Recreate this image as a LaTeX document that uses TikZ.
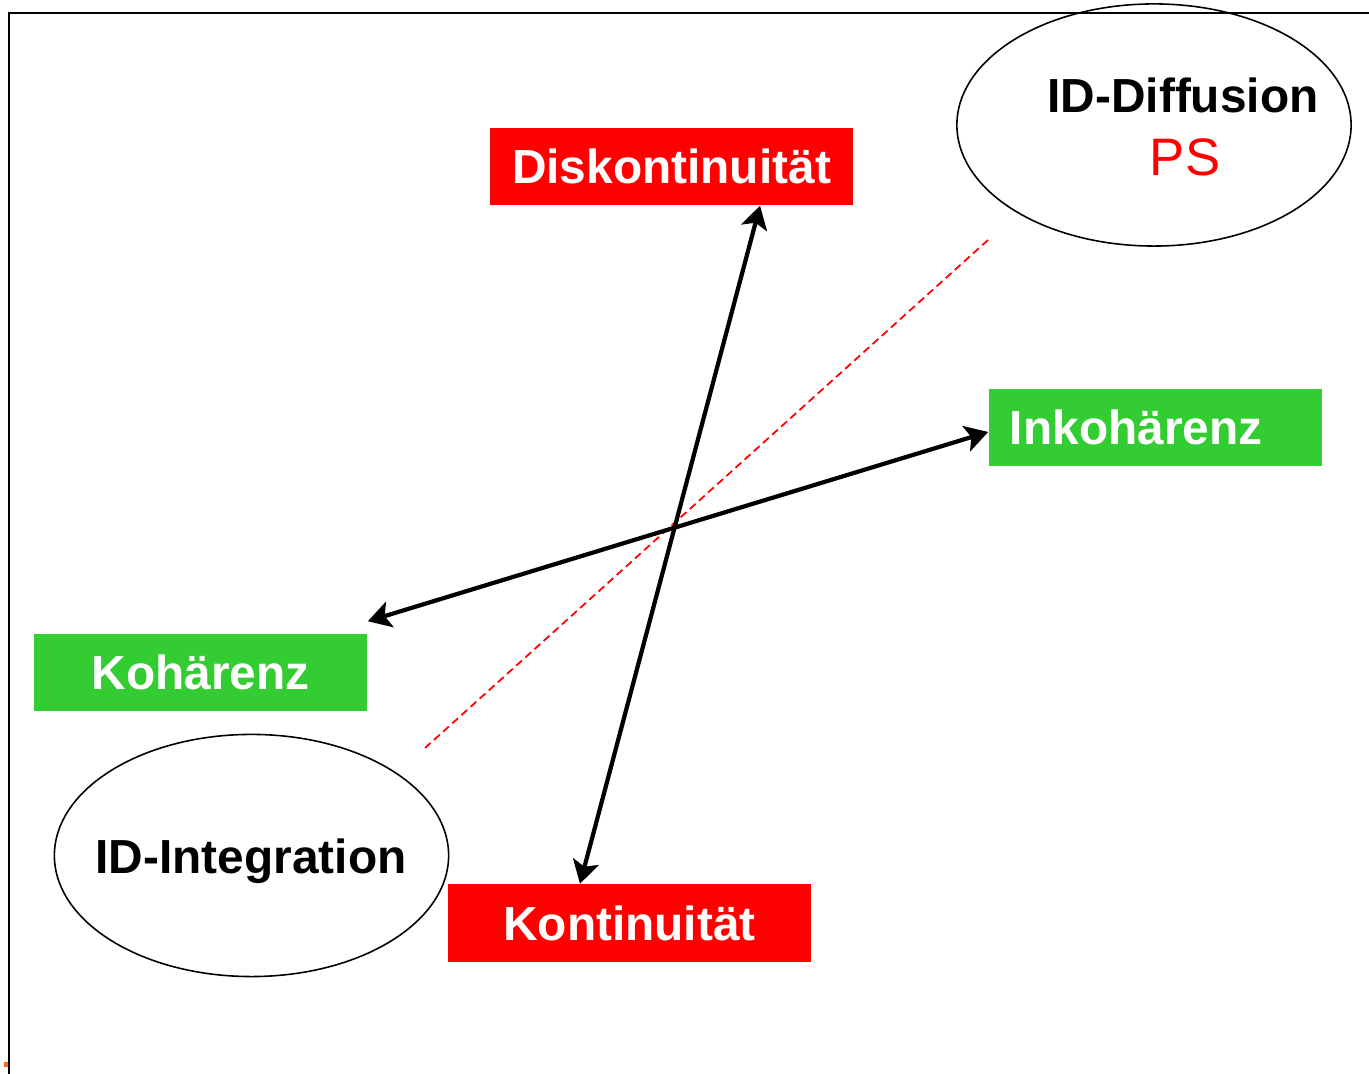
\documentclass[tikz,border=0pt]{standalone}
\usepackage{fontspec}
\setmainfont{Liberation Sans}
\usetikzlibrary{shapes.geometric,arrows.meta}
\definecolor{boxred}{RGB}{255,0,0}
\definecolor{boxgreen}{RGB}{51,204,51}
\definecolor{markorange}{RGB}{240,112,32}

\begin{document}
\begin{tikzpicture}[x=0.01cm,y=-0.01cm,
	boxfont/.style={font=\fontsize{13.6}{16}\selectfont\bfseries},
	redbox/.style={boxfont, fill=boxred, text=white, minimum width=3.63cm, minimum height=0.77cm, inner sep=0},
	greenbox/.style={boxfont, fill=boxgreen, text=white, minimum width=3.33cm, minimum height=0.77cm, inner sep=0},
	idell/.style={ellipse, draw, line width=0.45pt, minimum width=3.94cm, minimum height=2.42cm, inner sep=0},
	dblarrow/.style={<->, >={Stealth[length=6.5pt,width=7.5pt,inset=1.5pt]}, line width=1.2pt}]
	\useasboundingbox (0,0) rectangle (1369,1074);

	% frame
	\coordinate (f1) at (9,1074);
	\coordinate (f2) at (9,13);
	\coordinate (f3) at (1369,13);
	\draw[line width=0.6pt] (f1) -- (f2) -- (f3);
	\fill[markorange] (4,1062) rectangle (8,1067);

	\node[redbox](disk) at (671.5,166.5) {Diskontinuität};
	\node[redbox](kont) at (629.5,923) {Kontinuität};
	\node[greenbox, text width=2.91cm, align=left, inner xsep=0.21cm](inko) at (1155.5,427.5) {Inkohärenz};
	\node[greenbox](koh) at (200.5,672.5) {Kohärenz};

	\node[idell](diff) at (1154,125) {};
	\node[boxfont, anchor=base](difftext) at (1183,113) {ID-Diffusion};
	\node[text=boxred, font=\fontsize{15}{18}\selectfont, anchor=base](ps) at (1185,176) {PS};
	\node[idell](integ) at (251.5,855.5) {};
	\node[boxfont, anchor=base](integtext) at (251,874) {ID-Integration};

	% dashed diagonal
	\coordinate (d1) at (988,240);
	\coordinate (d2) at (425,748);
	\draw[boxred, dash pattern=on 2.2pt off 1.3pt, line width=0.5pt] (d1) -- (d2);

	\draw[dblarrow] ([xshift=-0.495cm]kont.north) -- ([xshift=0.885cm]disk.south);
	\draw[dblarrow] ([yshift=0.12cm]koh.north east) -- ([yshift=-0.045cm]inko.west);
\end{tikzpicture}
\end{document}
